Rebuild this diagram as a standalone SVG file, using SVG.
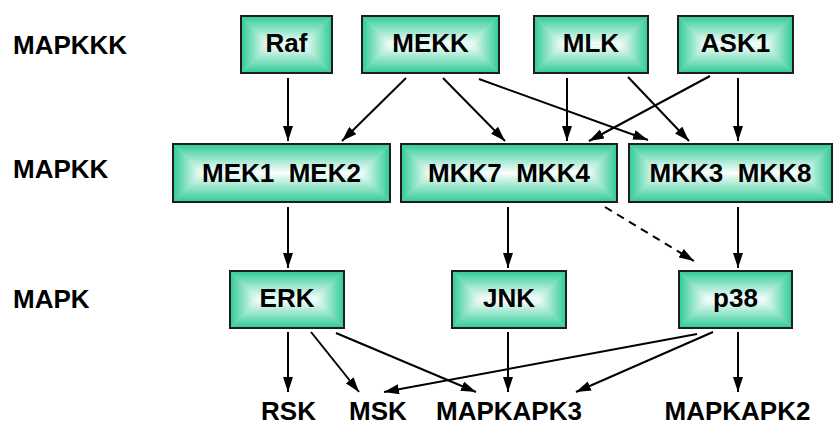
<svg xmlns="http://www.w3.org/2000/svg" width="835" height="426" viewBox="0 0 835 426">
<defs>
<style>
.t{font-family:"Liberation Sans",Arial,sans-serif;font-weight:bold;font-size:26px;fill:#000;white-space:pre}
.c{text-anchor:middle}
.bg{fill:#8fe0c4}
.bd{fill:none;stroke:#1e1e1e;stroke-width:2}
.e{fill:none;stroke:#000;stroke-width:2;marker-end:url(#ah)}
.d{stroke-dasharray:8,6}
.pT{fill:url(#gT)}.pB{fill:url(#gB)}.pL{fill:url(#gL)}.pR{fill:url(#gR)}
</style>
<linearGradient id="gT" x1="0" y1="0" x2="0" y2="1"><stop offset="0" stop-color="#2fca97"/><stop offset="1" stop-color="#fbfffd"/></linearGradient>
<linearGradient id="gB" x1="0" y1="1" x2="0" y2="0"><stop offset="0" stop-color="#2fca97"/><stop offset="1" stop-color="#fbfffd"/></linearGradient>
<linearGradient id="gL" x1="0" y1="0" x2="1" y2="0"><stop offset="0" stop-color="#2fca97"/><stop offset="1" stop-color="#fbfffd"/></linearGradient>
<linearGradient id="gR" x1="1" y1="0" x2="0" y2="0"><stop offset="0" stop-color="#2fca97"/><stop offset="1" stop-color="#fbfffd"/></linearGradient>
<marker id="ah" markerUnits="userSpaceOnUse" markerWidth="15" markerHeight="10" refX="15" refY="5" orient="auto" viewBox="0 0 15 10"><path d="M0,0 L15,5 L0,10 z" fill="#000"/></marker>
</defs>

<g id="labels">
<text class="t" x="13" y="54">MAPKKK</text>
<text class="t" x="13" y="178">MAPKK</text>
<text class="t" x="13" y="308">MAPK</text>
</g>

<g id="connectors">
<path class="e" d="M288,78 L288,141"/>
<path class="e" d="M406,78 L342,141"/>
<path class="e" d="M443,78 L505,141"/>
<path class="e" d="M479,79 L648,140"/>
<path class="e" d="M567,78 L567,141"/>
<path class="e" d="M628,77 L689,141"/>
<path class="e" d="M710,76 L589,141"/>
<path class="e" d="M738,78 L738,141"/>
<path class="e" d="M288,207 L288,268"/>
<path class="e" d="M508,207 L508,268"/>
<path class="e" d="M738,207 L738,268"/>
<path class="e d" d="M605,207 L694,261"/>
<path class="e" d="M288,332 L288,392"/>
<path class="e" d="M311,332 L359,392"/>
<path class="e" d="M336,333 L476,392"/>
<path class="e" d="M508,332 L508,392"/>
<path class="e" d="M697,334 L384,392"/>
<path class="e" d="M713,332 L576,392"/>
<path class="e" d="M738,332 L738,392"/>
</g>

<g id="Raf">
<rect class="bg" x="241" y="16" width="91" height="57"/>
<polygon class="pT" points="241,16 332,16 303.5,44.5 269.5,44.5"/>
<polygon class="pB" points="241,73 332,73 303.5,44.5 269.5,44.5"/>
<polygon class="pL" points="241,16 241,73 269.5,44.5"/>
<polygon class="pR" points="332,16 332,73 303.5,44.5"/>
<rect class="bd" x="241" y="16" width="91" height="57"/>
<text class="t c" x="286.5" y="52">Raf</text>
</g>

<g id="MEKK">
<rect class="bg" x="362" y="16" width="137" height="57"/>
<polygon class="pT" points="362,16 499,16 470.5,44.5 390.5,44.5"/>
<polygon class="pB" points="362,73 499,73 470.5,44.5 390.5,44.5"/>
<polygon class="pL" points="362,16 362,73 390.5,44.5"/>
<polygon class="pR" points="499,16 499,73 470.5,44.5"/>
<rect class="bd" x="362" y="16" width="137" height="57"/>
<text class="t c" x="430.5" y="52">MEKK</text>
</g>

<g id="MLK">
<rect class="bg" x="534" y="16" width="114" height="57"/>
<polygon class="pT" points="534,16 648,16 619.5,44.5 562.5,44.5"/>
<polygon class="pB" points="534,73 648,73 619.5,44.5 562.5,44.5"/>
<polygon class="pL" points="534,16 534,73 562.5,44.5"/>
<polygon class="pR" points="648,16 648,73 619.5,44.5"/>
<rect class="bd" x="534" y="16" width="114" height="57"/>
<text class="t c" x="591" y="52">MLK</text>
</g>

<g id="ASK1">
<rect class="bg" x="678" y="16" width="115" height="57"/>
<polygon class="pT" points="678,16 793,16 764.5,44.5 706.5,44.5"/>
<polygon class="pB" points="678,73 793,73 764.5,44.5 706.5,44.5"/>
<polygon class="pL" points="678,16 678,73 706.5,44.5"/>
<polygon class="pR" points="793,16 793,73 764.5,44.5"/>
<rect class="bd" x="678" y="16" width="115" height="57"/>
<text class="t c" x="735.5" y="52">ASK1</text>
</g>

<g id="MEK1_MEK2">
<rect class="bg" x="173" y="144" width="217" height="58"/>
<polygon class="pT" points="173,144 390,144 361,173 202,173"/>
<polygon class="pB" points="173,202 390,202 361,173 202,173"/>
<polygon class="pL" points="173,144 173,202 202,173"/>
<polygon class="pR" points="390,144 390,202 361,173"/>
<rect class="bd" x="173" y="144" width="217" height="58"/>
<text class="t c" x="281.5" y="182">MEK1  MEK2</text>
</g>

<g id="MKK7_MKK4">
<rect class="bg" x="401" y="144" width="216" height="58"/>
<polygon class="pT" points="401,144 617,144 588,173 430,173"/>
<polygon class="pB" points="401,202 617,202 588,173 430,173"/>
<polygon class="pL" points="401,144 401,202 430,173"/>
<polygon class="pR" points="617,144 617,202 588,173"/>
<rect class="bd" x="401" y="144" width="216" height="58"/>
<text class="t c" x="509" y="182">MKK7  MKK4</text>
</g>

<g id="MKK3_MKK8">
<rect class="bg" x="629" y="144" width="203" height="58"/>
<polygon class="pT" points="629,144 832,144 803,173 658,173"/>
<polygon class="pB" points="629,202 832,202 803,173 658,173"/>
<polygon class="pL" points="629,144 629,202 658,173"/>
<polygon class="pR" points="832,144 832,202 803,173"/>
<rect class="bd" x="629" y="144" width="203" height="58"/>
<text class="t c" x="730.5" y="182">MKK3  MKK8</text>
</g>

<g id="ERK">
<rect class="bg" x="230" y="271" width="114" height="57"/>
<polygon class="pT" points="230,271 344,271 315.5,299.5 258.5,299.5"/>
<polygon class="pB" points="230,328 344,328 315.5,299.5 258.5,299.5"/>
<polygon class="pL" points="230,271 230,328 258.5,299.5"/>
<polygon class="pR" points="344,271 344,328 315.5,299.5"/>
<rect class="bd" x="230" y="271" width="114" height="57"/>
<text class="t c" x="287" y="307">ERK</text>
</g>

<g id="JNK">
<rect class="bg" x="452" y="271" width="114" height="57"/>
<polygon class="pT" points="452,271 566,271 537.5,299.5 480.5,299.5"/>
<polygon class="pB" points="452,328 566,328 537.5,299.5 480.5,299.5"/>
<polygon class="pL" points="452,271 452,328 480.5,299.5"/>
<polygon class="pR" points="566,271 566,328 537.5,299.5"/>
<rect class="bd" x="452" y="271" width="114" height="57"/>
<text class="t c" x="509" y="307">JNK</text>
</g>

<g id="p38">
<rect class="bg" x="679" y="271" width="113" height="57"/>
<polygon class="pT" points="679,271 792,271 763.5,299.5 707.5,299.5"/>
<polygon class="pB" points="679,328 792,328 763.5,299.5 707.5,299.5"/>
<polygon class="pL" points="679,271 679,328 707.5,299.5"/>
<polygon class="pR" points="792,271 792,328 763.5,299.5"/>
<rect class="bd" x="679" y="271" width="113" height="57"/>
<text class="t c" x="735.5" y="307">p38</text>
</g>

<g id="RSK"><text class="t c" x="288.5" y="420">RSK</text></g>
<g id="MSK"><text class="t c" x="378" y="420">MSK</text></g>
<g id="MAPKAPK3"><text class="t c" x="509" y="420">MAPKAPK3</text></g>
<g id="MAPKAPK2"><text class="t c" x="737.5" y="420">MAPKAPK2</text></g>
</svg>
